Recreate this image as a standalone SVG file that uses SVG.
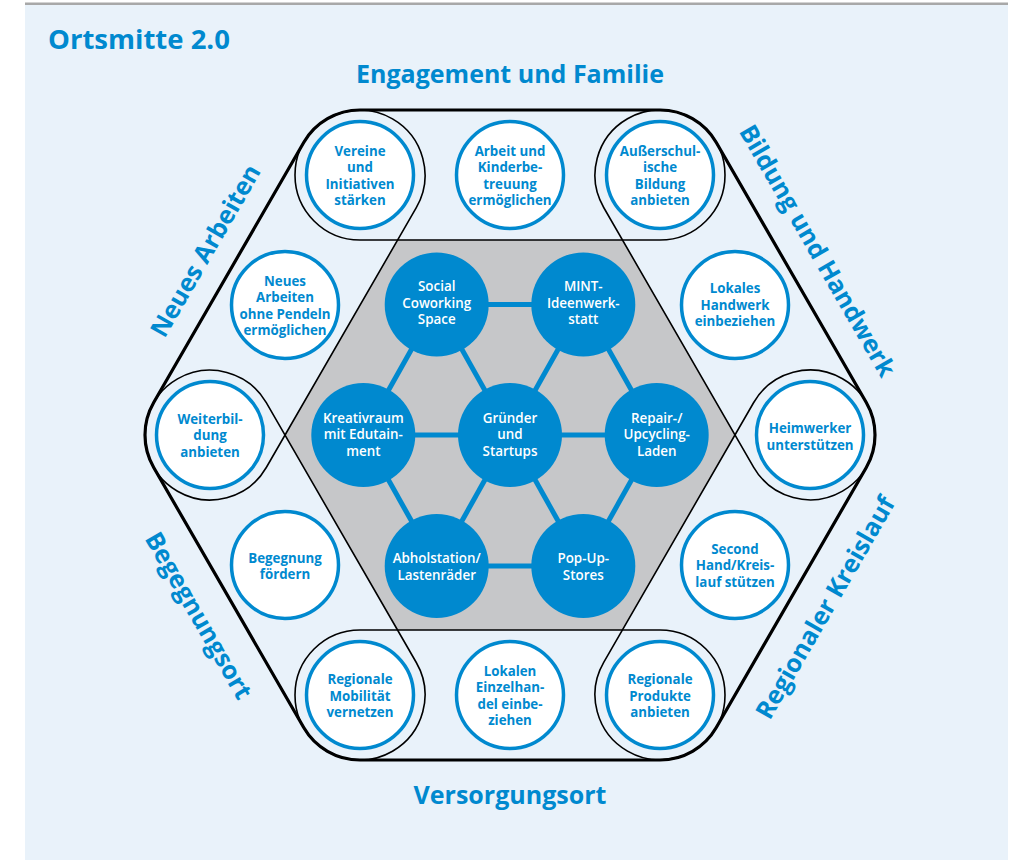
<svg xmlns="http://www.w3.org/2000/svg" width="1014" height="860" viewBox="0 0 1014 860">
<style>
.bg{fill:#e9f2fa}
.cap{fill:none;stroke:#000;stroke-width:1.6}
.outer{fill:none;stroke:#000;stroke-width:3.2;stroke-linejoin:round}
.hex{fill:#c6c7c9}
.link{stroke:#0089cf;stroke-width:5}
.oc{fill:#fff;stroke:#0089cf;stroke-width:3.5}
.ic{fill:#0089cf}
.ot{font-family:"Open Sans","Liberation Sans",sans-serif;font-weight:700;font-size:13.3px;fill:#0089cf;text-anchor:middle}
.it{font-family:"Open Sans","Liberation Sans",sans-serif;font-weight:600;font-size:13.4px;fill:#fff;text-anchor:middle}
.lab{font-family:"Open Sans","Liberation Sans",sans-serif;font-weight:700;font-size:25px;fill:#0089cf;text-anchor:middle}
.title{font-family:"Open Sans","Liberation Sans",sans-serif;font-weight:700;font-size:27.5px;fill:#0089cf}
</style>
<rect x="25" y="4" width="983" height="856" class="bg"/>
<rect x="25" y="2.5" width="983" height="2.5" fill="#a8a8a8"/>
<text class="title" x="48" y="49">Ortsmitte 2.0</text>

<g id="background-shapes">
<polygon class="hex" points="397.42,240 622.58,240 735.17,435 622.58,630 397.42,630 284.83,435"/>
<rect class="cap" x="-65" y="-65" width="430" height="130" rx="65" transform="translate(360,175)"/>
<rect class="cap" x="-65" y="-65" width="430" height="130" rx="65" transform="translate(660,175) rotate(60)"/>
<rect class="cap" x="-65" y="-65" width="430" height="130" rx="65" transform="translate(810,435) rotate(120)"/>
<rect class="cap" x="-65" y="-65" width="430" height="130" rx="65" transform="translate(660,695) rotate(180)"/>
<rect class="cap" x="-65" y="-65" width="430" height="130" rx="65" transform="translate(360,695) rotate(240)"/>
<rect class="cap" x="-65" y="-65" width="430" height="130" rx="65" transform="translate(210,435) rotate(300)"/>
<path class="outer" d="M360,110 L660,110 A65,65 0 0 1 716.29,142.5 L866.29,402.5 A65,65 0 0 1 866.29,467.5 L716.29,727.5 A65,65 0 0 1 660,760 L360,760 A65,65 0 0 1 303.71,727.5 L153.71,467.5 A65,65 0 0 1 153.71,402.5 L303.71,142.5 A65,65 0 0 1 360,110 Z"/>
</g>

<g id="section-labels">
<text class="lab" x="510" y="83">Engagement und Familie</text>
<text class="lab" x="510" y="804">Versorgungsort</text>
<text class="lab" transform="translate(213,255) rotate(-60)" x="0" y="0">Neues Arbeiten</text>
<text class="lab" transform="translate(810,255) rotate(60)" x="0" y="0">Bildung und Handwerk</text>
<text class="lab" transform="translate(832.8,612) rotate(-60)" x="0" y="0">Regionaler Kreislauf</text>
<text class="lab" transform="translate(191.2,620) rotate(60)" x="0" y="0">Begegnungsort</text>
</g>

<g id="connectors">
<line class="link" x1="436.7" y1="304.5" x2="583.3" y2="304.5"/>
<line class="link" x1="583.3" y1="304.5" x2="656.7" y2="435"/>
<line class="link" x1="656.7" y1="435" x2="583.3" y2="566"/>
<line class="link" x1="583.3" y1="566" x2="436.7" y2="566"/>
<line class="link" x1="436.7" y1="566" x2="363.3" y2="435"/>
<line class="link" x1="363.3" y1="435" x2="436.7" y2="304.5"/>
<line class="link" x1="510" y1="435" x2="436.7" y2="304.5"/>
<line class="link" x1="510" y1="435" x2="583.3" y2="304.5"/>
<line class="link" x1="510" y1="435" x2="656.7" y2="435"/>
<line class="link" x1="510" y1="435" x2="583.3" y2="566"/>
<line class="link" x1="510" y1="435" x2="436.7" y2="566"/>
<line class="link" x1="510" y1="435" x2="363.3" y2="435"/>
</g>

<g id="n-social"><circle class="ic" cx="436.7" cy="304.5" r="52"/><text class="it"><tspan x="436.7" y="291.3">Social</tspan><tspan x="436.7" y="307.8">Coworking</tspan><tspan x="436.7" y="324.3">Space</tspan></text></g>
<g id="n-mint"><circle class="ic" cx="583.3" cy="304.5" r="52"/><text class="it"><tspan x="583.3" y="291.3">MINT-</tspan><tspan x="583.3" y="307.8">Ideenwerk-</tspan><tspan x="583.3" y="324.3">statt</tspan></text></g>
<g id="n-kreativ"><circle class="ic" cx="363.3" cy="435" r="52"/><text class="it"><tspan x="363.3" y="422.5">Kreativraum</tspan><tspan x="363.3" y="439">mit Edutain-</tspan><tspan x="363.3" y="455.5">ment</tspan></text></g>
<g id="n-gruender"><circle class="ic" cx="510" cy="435" r="52"/><text class="it"><tspan x="510" y="422.5">Gründer</tspan><tspan x="510" y="439">und</tspan><tspan x="510" y="455.5">Startups</tspan></text></g>
<g id="n-repair"><circle class="ic" cx="656.7" cy="435" r="52"/><text class="it"><tspan x="656.7" y="422.5">Repair-/</tspan><tspan x="656.7" y="439">Upcycling-</tspan><tspan x="656.7" y="455.5">Laden</tspan></text></g>
<g id="n-abhol"><circle class="ic" cx="436.7" cy="566" r="52"/><text class="it"><tspan x="436.7" y="563">Abholstation/</tspan><tspan x="436.7" y="579.5">Lastenräder</tspan></text></g>
<g id="n-popup"><circle class="ic" cx="583.3" cy="566" r="52"/><text class="it"><tspan x="583.3" y="563">Pop-Up-</tspan><tspan x="583.3" y="579.5">Stores</tspan></text></g>

<g id="o-vereine"><circle class="oc" cx="360" cy="175" r="53.5"/><text class="ot"><tspan x="360" y="155.5">Vereine</tspan><tspan x="360" y="172">und</tspan><tspan x="360" y="188.5">Initiativen</tspan><tspan x="360" y="205">stärken</tspan></text></g>
<g id="o-arbeit"><circle class="oc" cx="510" cy="175" r="53.5"/><text class="ot"><tspan x="510" y="155.5">Arbeit und</tspan><tspan x="510" y="172">Kinderbe-</tspan><tspan x="510" y="188.5">treuung</tspan><tspan x="510" y="205">ermöglichen</tspan></text></g>
<g id="o-ausser"><circle class="oc" cx="660" cy="175" r="53.5"/><text class="ot"><tspan x="660" y="155.5">Außerschul-</tspan><tspan x="660" y="172">ische</tspan><tspan x="660" y="188.5">Bildung</tspan><tspan x="660" y="205">anbieten</tspan></text></g>
<g id="o-handwerk"><circle class="oc" cx="735" cy="305" r="53.5"/><text class="ot"><tspan x="735" y="293">Lokales</tspan><tspan x="735" y="309.5">Handwerk</tspan><tspan x="735" y="326">einbeziehen</tspan></text></g>
<g id="o-heimwerker"><circle class="oc" cx="810" cy="435" r="53.5"/><text class="ot"><tspan x="810" y="433">Heimwerker</tspan><tspan x="810" y="449.5">unterstützen</tspan></text></g>
<g id="o-second"><circle class="oc" cx="735" cy="565" r="53.5"/><text class="ot"><tspan x="735" y="553.5">Second</tspan><tspan x="735" y="570">Hand/Kreis-</tspan><tspan x="735" y="586.5">lauf stützen</tspan></text></g>
<g id="o-produkte"><circle class="oc" cx="660" cy="695" r="53.5"/><text class="ot"><tspan x="660" y="684">Regionale</tspan><tspan x="660" y="700.5">Produkte</tspan><tspan x="660" y="717">anbieten</tspan></text></g>
<g id="o-einzelhandel"><circle class="oc" cx="510" cy="695" r="53.5"/><text class="ot"><tspan x="510" y="675.5">Lokalen</tspan><tspan x="510" y="692">Einzelhan-</tspan><tspan x="510" y="708.5">del einbe-</tspan><tspan x="510" y="725">ziehen</tspan></text></g>
<g id="o-mobilitaet"><circle class="oc" cx="360" cy="695" r="53.5"/><text class="ot"><tspan x="360" y="684">Regionale</tspan><tspan x="360" y="700.5">Mobilität</tspan><tspan x="360" y="717">vernetzen</tspan></text></g>
<g id="o-begegnung"><circle class="oc" cx="285" cy="565" r="53.5"/><text class="ot"><tspan x="285" y="562.5">Begegnung</tspan><tspan x="285" y="579">fördern</tspan></text></g>
<g id="o-weiterbildung"><circle class="oc" cx="210" cy="435" r="53.5"/><text class="ot"><tspan x="210" y="423.5">Weiterbil-</tspan><tspan x="210" y="440">dung</tspan><tspan x="210" y="456.5">anbieten</tspan></text></g>
<g id="o-neues"><circle class="oc" cx="285" cy="305" r="53.5"/><text class="ot"><tspan x="285" y="285.5">Neues</tspan><tspan x="285" y="302">Arbeiten</tspan><tspan x="285" y="318.5">ohne Pendeln</tspan><tspan x="285" y="335">ermöglichen</tspan></text></g>
</svg>
